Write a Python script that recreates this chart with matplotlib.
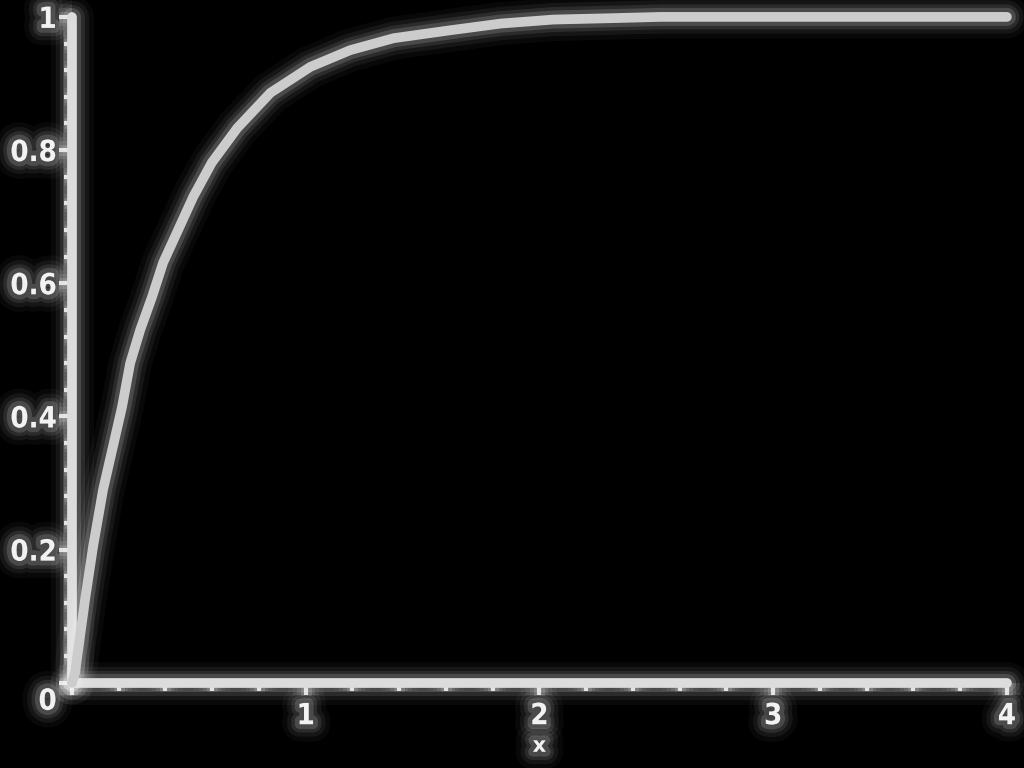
import matplotlib
matplotlib.use("Agg")
import matplotlib.pyplot as plt
import matplotlib.patheffects as pe
import matplotlib.transforms as mtransforms
from matplotlib.ticker import MultipleLocator

# points
x = [0.0, 0.013, 0.056, 0.09, 0.133, 0.214, 0.249, 0.292, 0.343, 0.390,
     0.454, 0.519, 0.598, 0.707, 0.849, 1.02, 1.19, 1.376, 1.62, 1.835,
     2.06, 2.3, 2.52, 3.0, 3.5, 4.0]
y = [0.0, 0.015, 0.125, 0.204, 0.29, 0.414, 0.480, 0.530, 0.580, 0.631,
     0.680, 0.730, 0.781, 0.833, 0.886, 0.925, 0.950, 0.968, 0.980, 0.990,
     0.996, 0.998, 1.0, 1.0, 1.0, 1.0]

x_ticks = [0, 1, 2, 3, 4]
x_labels = ["", "1", "2", "3", "4"]
y_ticks = [0, 0.2, 0.4, 0.6, 0.8, 1]
y_labels = ["0", "0.2", "0.4", "0.6", "0.8", "1"]

def glow(base, color="white"):
    fx = []
    for w, a in [(24, 0.035), (17, 0.06), (11, 0.09), (6, 0.15)]:
        fx.append(pe.Stroke(linewidth=base + w, foreground=color, alpha=a))
    fx.append(pe.Normal())
    return fx

fig = plt.figure(figsize=(10.24, 7.68), dpi=100, facecolor="black")
ax = fig.add_axes([0.0703, 0.111, 0.913, 0.867], facecolor="black")

ax.plot(x, y, color="#cccccc", lw=7, solid_capstyle="round", solid_joinstyle="round",
        path_effects=glow(7), clip_on=False, zorder=3)

ax.set_xlim(0, 4)
ax.set_ylim(0, 1)
ax.set_xticks(x_ticks)
ax.set_xticklabels(x_labels)
ax.set_yticks(y_ticks)
ax.set_yticklabels(y_labels)
ax.xaxis.set_minor_locator(MultipleLocator(0.2))
ax.yaxis.set_minor_locator(MultipleLocator(0.04))

for s in ["top", "right"]:
    ax.spines[s].set_visible(False)
for s in ["left", "bottom"]:
    ax.spines[s].set_color("#dcdcdc")
    ax.spines[s].set_linewidth(7)
    ax.spines[s].set_capstyle("round")
    ax.spines[s].set_path_effects(glow(7))

ax.tick_params(which="major", direction="out", length=9, width=3,
               color="#dcdcdc", labelcolor="#f2f2f2", labelsize=21)
ax.tick_params(axis="x", which="major", pad=5)
ax.tick_params(axis="y", which="major", pad=2)
ax.tick_params(which="minor", direction="out", length=6, width=3, color="#dcdcdc")
for t in ax.get_xticklabels() + ax.get_yticklabels():
    t.set_fontweight("bold")
    t.set_fontstretch("condensed")
    t.set_path_effects(glow(1))
for tl in ax.xaxis.get_ticklines(minor=True) + ax.yaxis.get_ticklines(minor=True) \
        + ax.xaxis.get_ticklines() + ax.yaxis.get_ticklines():
    tl.set_path_effects(glow(2))

# the "0" sits a little below the corner in the reference
zero = ax.yaxis.get_major_ticks()[0].label1
zero.set_transform(zero.get_transform()
                   + mtransforms.ScaledTranslation(0, -0.16, fig.dpi_scale_trans))

ax.set_xlabel("x", color="#f2f2f2", fontsize=15, fontweight="bold", labelpad=4,
              path_effects=glow(1))

fig.savefig("out.png", dpi=100, facecolor="black")
